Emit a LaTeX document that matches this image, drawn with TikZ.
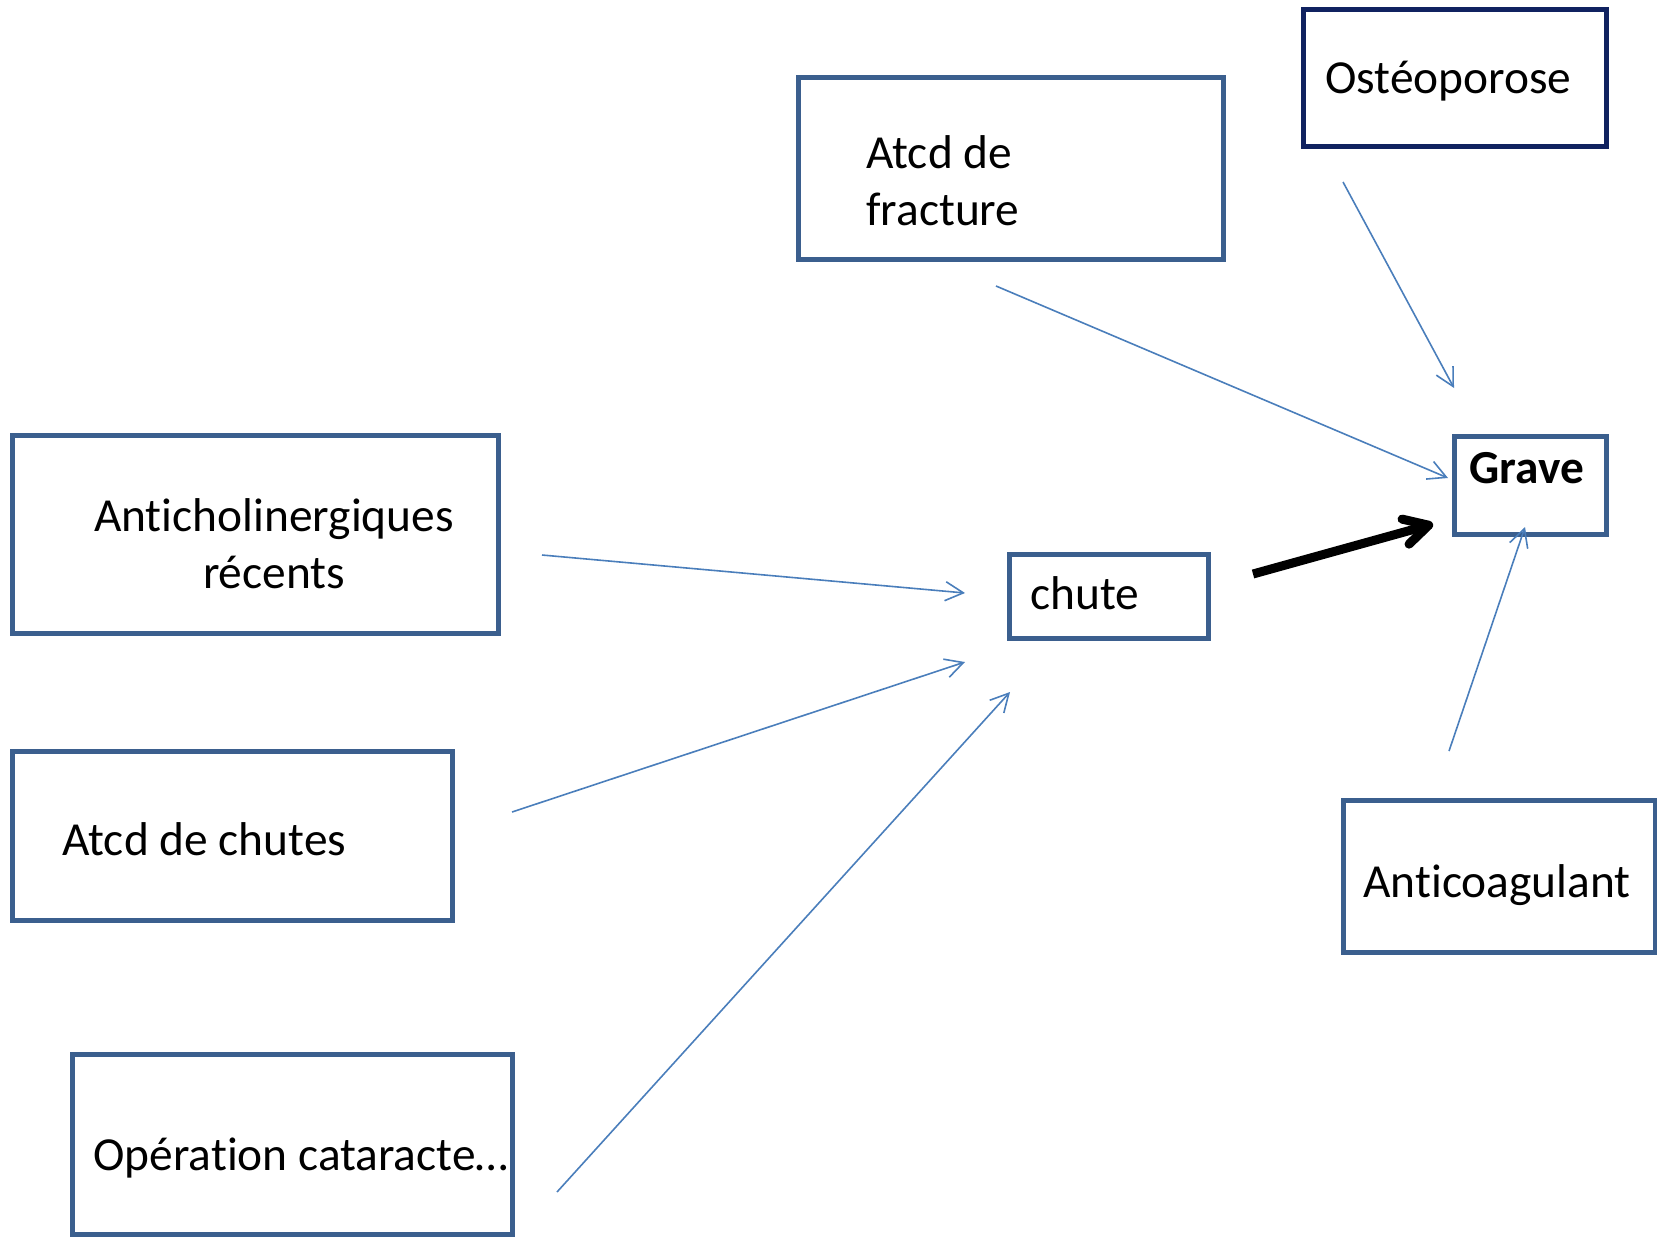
\documentclass[tikz,border=0pt]{standalone}
\usepackage{fontspec}
\setmainfont[Ligatures=NoCommon]{Carlito}
\usetikzlibrary{arrows.meta,fit}

\definecolor{boxblue}{HTML}{3B5F8E}
\definecolor{navyblue}{RGB}{16,34,96}
\definecolor{linkblue}{HTML}{4A7EBB}

\tikzset{
    box/.style={draw=boxblue, line width=2.5pt, inner sep=0pt},
    txt/.style={inner sep=0pt, font=\fontsize{23.7}{28.5}\selectfont},
    link/.style={draw=linkblue, line width=0.8pt, -{Straight Barb[length=9pt,width=9.5pt]}},
}

\begin{document}
\begin{tikzpicture}[x=0.5pt,y=-0.5pt]
    \useasboundingbox (0,0) rectangle (1657,1237);

    % boxes
    \node[box, fit={(798,77) (1223,259)}] (frac) {};
    \node[box, draw=navyblue, fit={(1303,9) (1606,146)}] (osteo) {};
    \node[box, fit={(1454,436) (1606,534)}] (grave) {};
    \node[box, fit={(12,435) (498,633)}] (antichol) {};
    \node[box, fit={(1009,554) (1208,638)}] (chute) {};
    \node[box, fit={(12,751) (452,920)}] (chutes) {};
    \node[box, fit={(1343,800) (1655,952)}] (anticoag) {};
    \node[box, fit={(72,1054) (512,1234)}] (cataracte) {};

    % texts (base = last line)
    \node[txt, anchor=base west, align=left] (fracText) at (866,225) {Atcd de\\fracture};
    \node[txt, anchor=base west] (osteoText) at (1325,93) {Ostéoporose};
    \node[txt, anchor=base west, font=\fontsize{23.7}{28.5}\selectfont\bfseries] (graveText) at (1469,483) {Grave};
    \node[txt, anchor=base, align=center] (anticholText) at (274,588) {Anticholinergiques\\récents};
    \node[txt, anchor=base west] (chuteText) at (1030,609) {chute};
    \node[txt, anchor=base west] (chutesText) at (62,855) {Atcd de chutes};
    \node[txt, anchor=base west] (anticoagText) at (1363,897) {Anticoagulant};
    \node[txt, anchor=base west] (cataracteText) at (93,1170) {Opération cataracte…};

    % arrow ends
    \coordinate (fracOut) at (996,286);
    \coordinate (graveInA) at (1448,478);
    \coordinate (osteoOut) at (1343,182);
    \coordinate (graveInB) at (1454,388);
    \coordinate (anticholOut) at (542,555);
    \coordinate (chuteInA) at (965,593);
    \coordinate (chutesOut) at (512,812);
    \coordinate (chuteInB) at (965,662);
    \coordinate (cataracteOut) at (557,1192);
    \coordinate (chuteInC) at (1010,692);
    \coordinate (anticoagOut) at (1449,751);
    \coordinate (graveInC) at (1525,527);
    \coordinate (chuteOut) at (1253,574);
    \coordinate (graveInD) at (1433,524);

    \draw[link] (fracOut) -- (graveInA);
    \draw[link] (osteoOut) -- (graveInB);
    \draw[link] (anticholOut) -- (chuteInA);
    \draw[link] (chutesOut) -- (chuteInB);
    \draw[link] (cataracteOut) -- (chuteInC);
    \draw[link] (anticoagOut) -- (graveInC);
    \draw[line width=4.5pt, -{Straight Barb[length=12pt,width=13pt,round]}] (chuteOut) -- (graveInD);
\end{tikzpicture}
\end{document}
